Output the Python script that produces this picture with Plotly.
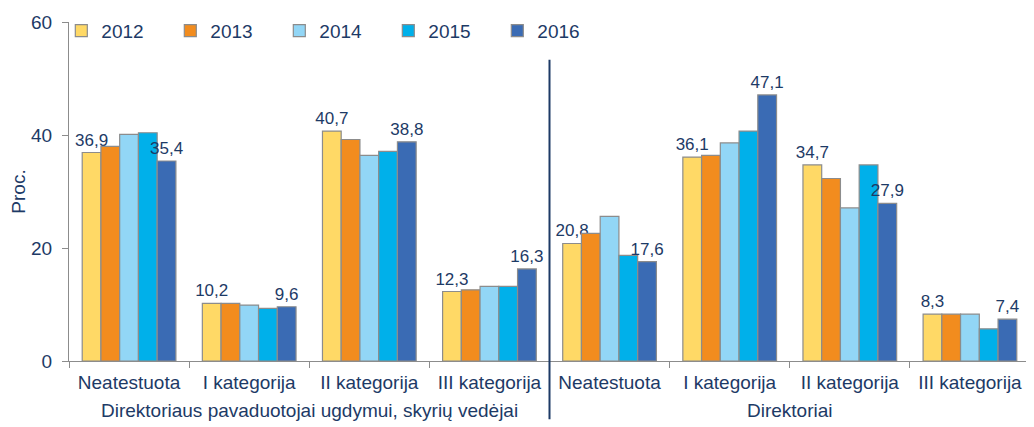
import plotly.graph_objects as go

categories = ["Neatestuota", "I kategorija", "II kategorija", "III kategorija",
              "Neatestuota ", "I kategorija ", "II kategorija ", "III kategorija "]
tick_labels = ["Neatestuota", "I kategorija", "II kategorija", "III kategorija",
               "Neatestuota", "I kategorija", "II kategorija", "III kategorija"]
years = ["2012", "2013", "2014", "2015", "2016"]
v2012 = [36.9, 10.2, 40.7, 12.3, 20.8, 36.1, 34.7, 8.3]
v2013 = [38.0, 10.2, 39.2, 12.6, 22.6, 36.4, 32.3, 8.3]
v2014 = [40.1, 9.9, 36.4, 13.2, 25.6, 38.6, 27.1, 8.3]
v2015 = [40.4, 9.3, 37.1, 13.2, 18.7, 40.7, 34.7, 5.7]
v2016 = [35.4, 9.6, 38.8, 16.3, 17.6, 47.1, 27.9, 7.4]
series = [v2012, v2013, v2014, v2015, v2016]
colors = ["#FFD966", "#F28C1E", "#92D6F6", "#00B0EA", "#3A6BB4"]
labelled = [True, False, False, False, True]
group_labels = ["Direktoriaus pavaduotojai ugdymui, skyrių vedėjai", "Direktoriai"]
y_ticks = [0, 20, 40, 60]

TXT = "#1d3a66"
FONT = "Liberation Sans, Arial, sans-serif"

fig = go.Figure()
for yr, vals, col, lab in zip(years, series, colors, labelled):
    fig.add_trace(go.Bar(
        name=yr, x=categories, y=vals,
        marker=dict(color=col, line=dict(color="#8c8c8c", width=1.2)),
        text=[f"{v:.1f}".replace(".", ",") for v in vals] if lab else None,
        textposition="outside" if lab else "none",
        textfont=dict(size=17, color=TXT, family=FONT),
        cliponaxis=False,
        constraintext="none",
    ))

fig.add_shape(type="line", xref="x", yref="paper", x0=3.5, x1=3.5, y0=-0.172, y1=0.889,
              line=dict(color="#1d3a66", width=2))
fig.add_annotation(x=1.5, xref="x", y=-0.146, yref="paper", yanchor="middle", showarrow=False,
                   text=group_labels[0], font=dict(size=19, color=TXT, family=FONT))
fig.add_annotation(x=5.5, xref="x", y=-0.146, yref="paper", yanchor="middle", showarrow=False,
                   text=group_labels[1], font=dict(size=19, color=TXT, family=FONT))

fig.update_layout(
    width=1026, height=419,
    margin=dict(l=51, r=4, t=11, b=66),
    plot_bgcolor="white", paper_bgcolor="white",
    barmode="group", bargap=0.22, bargroupgap=0,
    font=dict(family=FONT, color=TXT, size=19),
    showlegend=True,
    legend=dict(orientation="h", x=-0.008, y=1.03, yanchor="top", xanchor="left",
                font=dict(size=19, color=TXT, family=FONT),
                entrywidth=64, entrywidthmode="pixels", itemwidth=30,
                bgcolor="rgba(0,0,0,0)", traceorder="normal"),
    xaxis=dict(tickmode="array", tickvals=categories, ticktext=tick_labels,
               showline=True, linecolor="#8c8c8c", linewidth=1.2,
               ticks="outside", tickson="boundaries", ticklen=6, tickcolor="#8c8c8c",
               ticklabelstandoff=4,
               tickfont=dict(size=19, color=TXT, family=FONT), showgrid=False),
    yaxis=dict(range=[0, 60], tickvals=y_ticks, showline=True, linecolor="#8c8c8c",
               linewidth=1.2, ticks="outside", ticklen=6, tickcolor="#8c8c8c",
               ticklabelstandoff=6,
               showgrid=False, zeroline=False,
               tickfont=dict(size=19, color=TXT, family=FONT),
               title=dict(text="Proc.", font=dict(size=19, color=TXT, family=FONT), standoff=6)),
)

fig.write_html("out.html")
